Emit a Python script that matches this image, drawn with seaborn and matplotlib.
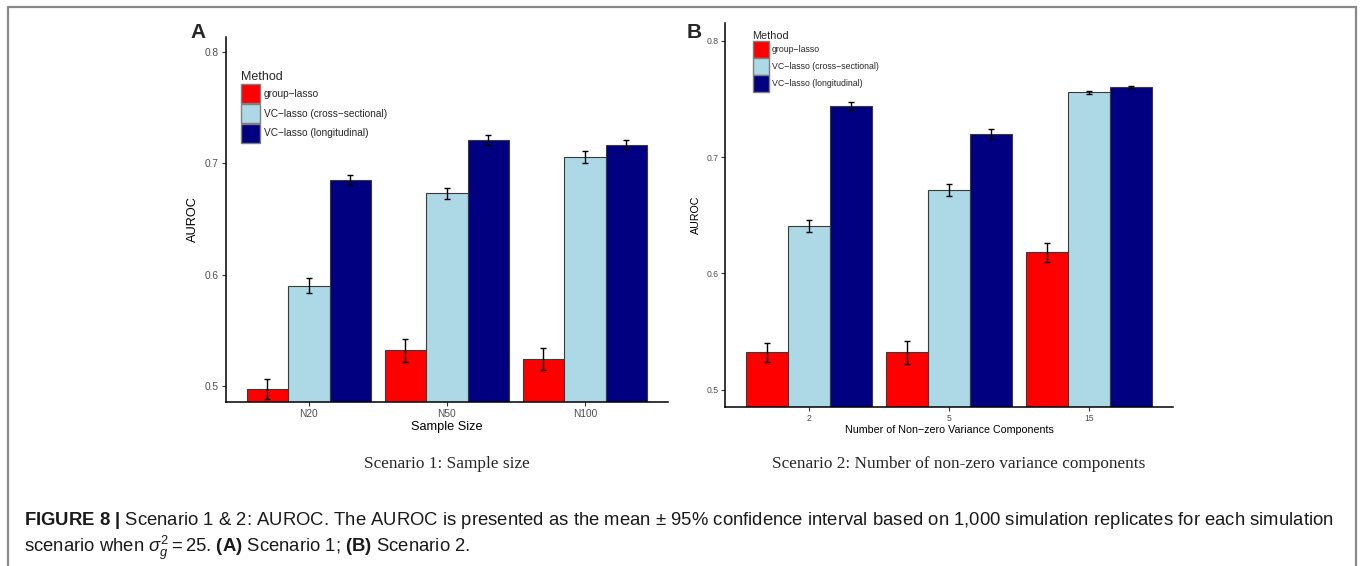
import numpy as np
import pandas as pd
import matplotlib
matplotlib.use("Agg")
import matplotlib.pyplot as plt
import seaborn as sns
from matplotlib.lines import Line2D

# ---------------- data ----------------
methods = ["group\u2212lasso", "VC\u2212lasso (cross\u2212sectional)", "VC\u2212lasso (longitudinal)"]
method_colors = ["#FF0000", "#ADD8E6", "#000080"]

s1_categories = ["N20", "N50", "N100"]
s1_group = [0.497, 0.532, 0.524]
s1_group_err = [0.0089, 0.0103, 0.0097]
s1_cross = [0.590, 0.673, 0.706]
s1_cross_err = [0.0066, 0.0050, 0.0054]
s1_long = [0.685, 0.721, 0.717]
s1_long_err = [0.0048, 0.0043, 0.0039]

s2_categories = ["2", "5", "15"]
s2_group = [0.532, 0.532, 0.618]
s2_group_err = [0.0080, 0.0102, 0.0080]
s2_cross = [0.641, 0.672, 0.7556]
s2_cross_err = [0.0052, 0.0052, 0.0010]
s2_long = [0.744, 0.720, 0.760]
s2_long_err = [0.0034, 0.0042, 0.0010]

y_ticks = [0.5, 0.6, 0.7, 0.8]

# ---------------- style ----------------
sns.set_style("white")
plt.rcParams["font.family"] = ["Liberation Sans", "DejaVu Sans"]
plt.rcParams["mathtext.fontset"] = "custom"
plt.rcParams["mathtext.rm"] = "Liberation Sans"
plt.rcParams["mathtext.bf"] = "Liberation Sans:bold"
plt.rcParams["mathtext.it"] = "Liberation Sans:italic"

W, H = 1360, 566
fig = plt.figure(figsize=(W / 100, H / 100), dpi=100)


def fbox(l, t, r, b):
    return [l / W, 1 - b / H, (r - l) / W, (b - t) / H]


def panel(ax, cats, vals, errs, ylim, tick_fs, label_fs, xlabel, leg_title_fs, leg_fs, leg_anchor):
    df = pd.DataFrame({
        "group": [c for _ in methods for c in cats],
        "method": [m for m in methods for _ in cats],
        "auroc": [v for series in vals for v in series],
    })
    sns.barplot(data=df, x="group", y="auroc", hue="method", order=cats,
                hue_order=methods, palette=dict(zip(methods, method_colors)),
                errorbar=None, width=0.9, gap=0, edgecolor="#3a3a3a",
                linewidth=0.8, saturation=1, ax=ax)
    for cont, e in zip(ax.containers, errs):
        xs = [p.get_x() + p.get_width() / 2 for p in cont]
        ys = [p.get_height() for p in cont]
        ax.errorbar(xs, ys, yerr=e, fmt="none", ecolor="black", elinewidth=1.0,
                    capsize=2.2, capthick=1.0, zorder=5)
    ax.set_ylim(*ylim)
    ax.set_xlim(-0.6, len(cats) - 0.4)
    ax.set_yticks(y_ticks)
    ax.set_yticklabels([f"{t:.1f}" for t in y_ticks])
    ax.tick_params(axis="both", length=3, width=0.8, color="#333333",
                   labelcolor="#4d4d4d", labelsize=tick_fs, pad=2,
                   left=True, bottom=True)
    for s in ["top", "right"]:
        ax.spines[s].set_visible(False)
    for s in ["left", "bottom"]:
        ax.spines[s].set_color("black")
        ax.spines[s].set_linewidth(1.1)
    ax.set_xlabel(xlabel, fontsize=label_fs, color="black", labelpad=2)
    ax.set_ylabel("AUROC", fontsize=label_fs, color="black", labelpad=4)
    handles, labels = ax.get_legend_handles_labels()
    for h in handles:
        h.set_edgecolor("#7f7f7f")
        h.set_linewidth(1.0)
    ax.legend(handles, labels, title="Method", loc="upper left",
              bbox_to_anchor=leg_anchor, frameon=False, fontsize=leg_fs,
              title_fontsize=leg_title_fs, alignment="left", borderpad=0,
              borderaxespad=0, handlelength=1.87, handleheight=2.5,
              labelspacing=0.08, handletextpad=0.35)


axA = fig.add_axes(fbox(226, 36.7, 667.7, 401.7))
panel(axA, s1_categories, [s1_group, s1_cross, s1_long],
      [s1_group_err, s1_cross_err, s1_long_err], (0.4856, 0.8141),
      7.3, 9.2, "Sample Size", 9.0, 7.3, (0.034, 0.905))

axB = fig.add_axes(fbox(725.3, 23, 1173, 406.7))
panel(axB, s2_categories, [s2_group, s2_cross, s2_long],
      [s2_group_err, s2_cross_err, s2_long_err], (0.4854, 0.8152),
      6.2, 7.7, "Number of Non\u2212zero Variance Components", 7.8, 6.3, (0.061, 0.98))

# panel letters
fig.text(198 / W, 1 - 32 / H, "A", fontsize=15, fontweight="bold", ha="center", va="center")
fig.text(694 / W, 1 - 32 / H, "B", fontsize=15, fontweight="bold", ha="center", va="center")

# sub captions (serif)
fig.text(447 / W, 1 - 464 / H, "Scenario 1: Sample size", fontsize=12.4,
         family=["Liberation Serif"], ha="center", va="center")
fig.text(959 / W, 1 - 464 / H, "Scenario 2: Number of non-zero variance components",
         fontsize=12.4, family=["Liberation Serif"], ha="center", va="center")

# figure caption
line1 = (r"$\mathbf{FIGURE\ 8\ |}$ Scenario 1 & 2: AUROC. The AUROC is presented as the mean "
         "\u00b1 95% confidence interval based on 1,000 simulation replicates for each simulation")
line2 = r"scenario when $\sigma_g^2 = 25$. $\mathbf{(A)}$ Scenario 1; $\mathbf{(B)}$ Scenario 2."
fig.text(24 / W, 1 - 525 / H, line1, fontsize=13.3, color="#1a1a1a", ha="left", va="baseline")
fig.text(24 / W, 1 - 552 / H, line2, fontsize=13.3, color="#1a1a1a", ha="left", va="baseline")

# outer frame (open at bottom)
frame_kw = dict(color="#8a8a8a", linewidth=1.6, transform=fig.transFigure)
fig.add_artist(Line2D([7.5 / W, 7.5 / W], [0, 1 - 6.5 / H], **frame_kw))
fig.add_artist(Line2D([7.5 / W, 1356 / W], [1 - 6.5 / H, 1 - 6.5 / H], **frame_kw))
fig.add_artist(Line2D([1356 / W, 1356 / W], [0, 1 - 6.5 / H], **frame_kw))

fig.savefig("out.png", dpi=100)
